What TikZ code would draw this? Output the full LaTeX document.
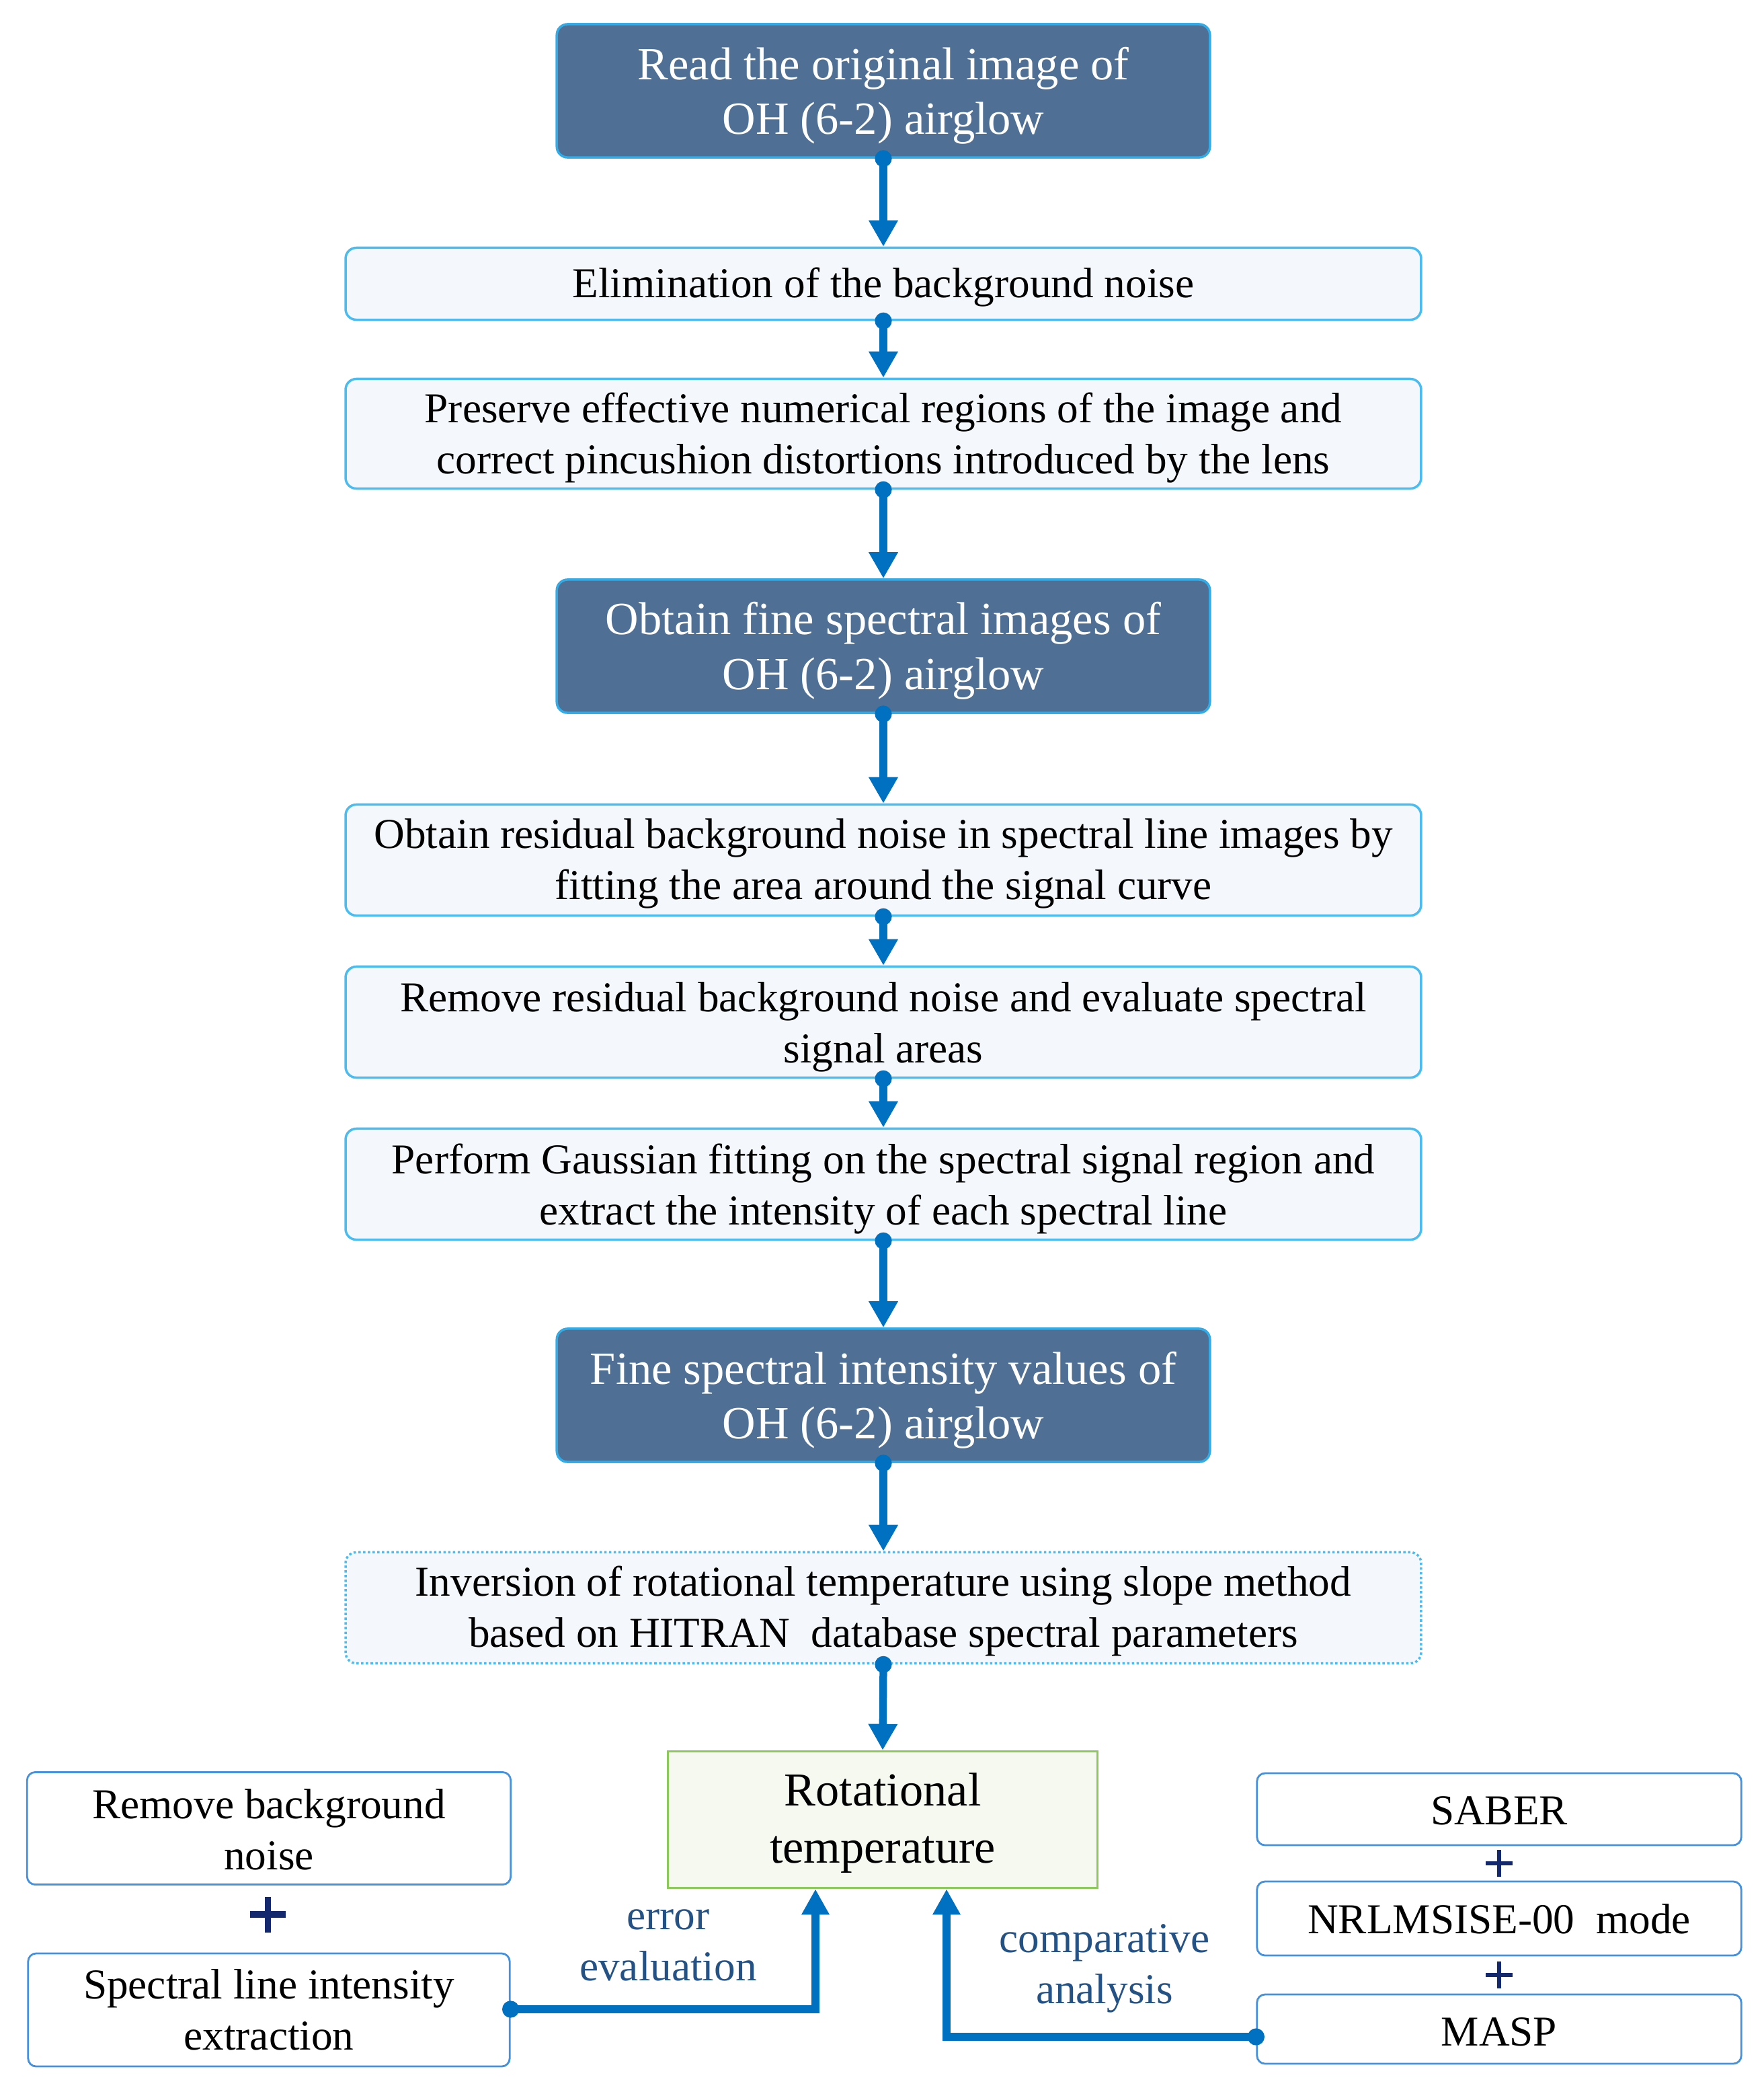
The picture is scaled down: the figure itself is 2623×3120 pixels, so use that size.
\documentclass[tikz,border=0pt]{standalone}
\usepackage{fontspec}
\setmainfont{Liberation Serif}
\usetikzlibrary{arrows.meta}
\definecolor{darkfill}{RGB}{79,112,148}
\definecolor{darkborder}{RGB}{51,171,230}
\definecolor{lightfill}{RGB}{244,247,252}
\definecolor{lightborder}{RGB}{75,188,240}
\definecolor{arrowblue}{RGB}{0,112,192}
\definecolor{sideborder}{RGB}{70,145,220}
\definecolor{greenborder}{RGB}{140,200,90}
\definecolor{greenfill}{RGB}{245,249,240}
\definecolor{plusnavy}{RGB}{20,40,110}
\definecolor{labelblue}{RGB}{37,82,132}
\newcommand{\ts}[1]{\rule{0pt}{#1em}}
\newcommand{\bs}[1]{\rule[-#1em]{0pt}{0pt}}
\tikzset{
  darkbox/.style={rounded corners=0.16cm, fill=darkfill, draw=darkborder, line width=1pt,
    text=white, align=center, font=\fontsize{19.5}{23.2}\selectfont,
    minimum width=9.71cm, minimum height=1.98cm, inner sep=0pt},
  lightbox/.style={rounded corners=0.16cm, fill=lightfill, draw=lightborder, line width=1pt,
    align=center, font=\fontsize{18}{21.6}\selectfont,
    minimum width=15.99cm, inner sep=0pt},
  sidebox/.style={rounded corners=0.12cm, fill=white, draw=sideborder, line width=0.8pt,
    align=center, font=\fontsize{18}{21.6}\selectfont, inner sep=0pt},
  greenbox/.style={fill=greenfill, draw=greenborder, line width=1pt,
    align=center, font=\fontsize{20}{24}\selectfont, inner sep=0pt,
    minimum width=6.39cm, minimum height=2.03cm},
  flowdot/.style={draw=arrowblue, line width=3.2pt, shorten <=-0.125cm,
    {Circle[length=0.25cm,width=0.25cm]}-{Triangle[length=0.39cm,width=0.41cm]}},
  sidearrow/.style={draw=arrowblue, line width=3.4pt, shorten <=-0.125cm,
    {Circle[length=0.25cm,width=0.25cm]}-{Triangle[length=0.38cm,width=0.39cm]}},
  plussign/.style={draw=plusnavy, line cap=butt},
  lbl/.style={text=labelblue, align=center, font=\fontsize{18}{21.6}\selectfont, inner sep=0pt}
}
\begin{document}
\begin{tikzpicture}[x=0.01cm,y=-0.01cm]
\useasboundingbox (0,0) rectangle (2623,3120);
\node[darkbox] (d1) at (1314,135) {\ts{0.92}Read the original image of\\OH (6-2) airglow\bs{0.22}};
\node[lightbox, minimum height=1.07cm] (b2) at (1314,422) {\ts{0.88}Elimination of the background noise\bs{0.22}};
\node[lightbox, minimum height=1.63cm] (b3) at (1314,645) {\ts{0.9}Preserve effective numerical regions of the image and\\correct pincushion distortions introduced by the lens\bs{0.22}};
\node[darkbox] (d2) at (1314,961) {\ts{0.9}Obtain fine spectral images of\\OH (6-2) airglow\bs{0.22}};
\node[lightbox, minimum height=1.65cm] (b4) at (1314,1279) {\ts{0.86}Obtain residual background noise in spectral line images by\\fitting the area around the signal curve\bs{0.22}};
\node[lightbox, minimum height=1.65cm] (b5) at (1314,1520) {\ts{0.92}Remove residual background noise and evaluate spectral\\signal areas\bs{0.22}};
\node[lightbox, minimum height=1.65cm] (b6) at (1314,1761) {\ts{0.92}Perform Gaussian fitting on the spectral signal region and\\extract the intensity of each spectral line\bs{0.22}};
\node[darkbox] (d3) at (1314,2075) {\ts{0.92}Fine spectral intensity values of\\OH (6-2) airglow\bs{0.22}};
\node[lightbox, minimum height=1.65cm, densely dotted] (b7) at (1314,2391) {\ts{0.88}Inversion of rotational temperature using slope method\\based on HITRAN\ \ database spectral parameters\bs{0.22}};
\node[greenbox] (rt) at (1313,2706) {\ts{0.85}Rotational\\temperature\bs{0.22}};

\node[sidebox, minimum width=7.19cm, minimum height=1.67cm] (l1) at (400,2719) {\ts{0.74}Remove background\\noise};
\node[sidebox, minimum width=7.16cm, minimum height=1.68cm] (l2) at (400,2989) {\ts{0.7}Spectral line intensity\\extraction};
\node[sidebox, minimum width=7.2cm, minimum height=1.07cm] (r1) at (2230,2690.5) {\ts{0.75}SABER};
\node[sidebox, minimum width=7.2cm, minimum height=1.10cm] (r2) at (2230,2853) {\ts{0.72}NRLMSISE-00\ \ mode};
\node[sidebox, minimum width=7.2cm, minimum height=1.03cm] (r3) at (2230,3017.5) {\ts{0.8}MASP};

\draw[flowdot] (d1.south) -- (b2.north);
\draw[flowdot] (b2.south) -- (b3.north);
\draw[flowdot] (b3.south) -- (d2.north);
\draw[flowdot] (d2.south) -- (b4.north);
\draw[flowdot] (b4.south) -- (b5.north);
\draw[flowdot] (b5.south) -- (b6.north);
\draw[flowdot] (b6.south) -- (d3.north);
\draw[flowdot] (d3.south) -- (b7.north);
\draw[flowdot] (b7.south) -- (rt.north);

\coordinate (lc) at (1213,2988);
\coordinate (rc) at (1408,3029);
\draw[sidearrow] (l2.east |- lc) -- (lc) -- (lc |- rt.south);
\draw[sidearrow] (r3.west |- rc) -- (rc) -- (rc |- rt.south);

\node[lbl] (le) at (994,2893) {error\\evaluation};
\node[lbl] (la) at (1643,2927) {comparative\\analysis};

\draw[plussign, line width=2.8pt] (372,2847) -- (425,2847) (398.5,2821) -- (398.5,2874);
\draw[plussign, line width=1.9pt] (2210,2771) -- (2250,2771) (2230,2751) -- (2230,2791);
\draw[plussign, line width=1.9pt] (2210,2937) -- (2250,2937) (2230,2917) -- (2230,2957);
\end{tikzpicture}
\end{document}
